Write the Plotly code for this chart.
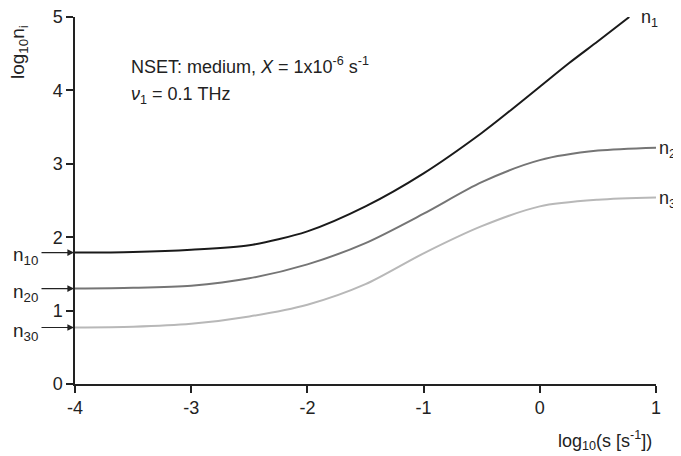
import plotly.graph_objects as go

# ---- data ----
x_vals = [-4, -3.5, -3, -2.5, -2, -1.5, -1, -0.5, 0, 0.5, 1]
n1_x = [-4, -3.5, -3, -2.5, -2, -1.5, -1, -0.5, -0.25, 0, 0.25, 0.5, 0.77]
n1 = [1.79, 1.80, 1.83, 1.89, 2.08, 2.42, 2.87, 3.42, 3.73, 4.05, 4.37, 4.67, 5.0]
n2 = [1.30, 1.31, 1.34, 1.44, 1.63, 1.92, 2.32, 2.75, 3.05, 3.18, 3.22]
n3 = [0.77, 0.78, 0.82, 0.92, 1.08, 1.36, 1.78, 2.15, 2.42, 2.51, 2.54]
x_ticks = [-4, -3, -2, -1, 0, 1]
x_tick_text = ["-4", "-3", "-2", "-1", "0", "1"]
y_ticks = [0, 1, 2, 3, 4, 5]
y_tick_text = ["0", "1", "2", "3", "4", "5"]

OFF = 8  # default page body margin
W, H = 681 - OFF, 456 - OFF
L, T = 75 - OFF, 17 - OFF
PW, PH = 581, 367
R, B = W - L - PW, H - T - PH
FONT = "Liberation Sans, Arial, sans-serif"
TXT = "#222222"


def px(xs):
    return (xs - OFF - L) / PW


def py(ys):
    return (T + PH - (ys - OFF)) / PH


fig = go.Figure()
fig.add_trace(go.Scatter(x=n1_x, y=n1, mode="lines",
                         line=dict(color="#1a1a1a", width=2, shape="spline", smoothing=0.8),
                         showlegend=False, cliponaxis=False))
fig.add_trace(go.Scatter(x=x_vals, y=n2, mode="lines",
                         line=dict(color="#757575", width=2, shape="spline", smoothing=0.8),
                         showlegend=False, cliponaxis=False))
fig.add_trace(go.Scatter(x=x_vals, y=n3, mode="lines",
                         line=dict(color="#b8b8b8", width=2, shape="spline", smoothing=0.8),
                         showlegend=False, cliponaxis=False))

ann = []


def text_ann(t, xs, ys, size=18, xanchor="left", angle=0):
    ann.append(dict(text=t, xref="paper", yref="paper", x=px(xs), y=py(ys),
                    xanchor=xanchor, yanchor="middle", textangle=angle,
                    showarrow=False, font=dict(family=FONT, size=size, color=TXT)))


# axis titles
text_ann("log<sub>10</sub>n<sub>i</sub>", 19, 52, size=19, xanchor="center", angle=-90)
text_ann("log<sub>10</sub>(s [s<sup>-1</sup>])", 654, 440, xanchor="right")
# info text
text_ann("NSET: medium, <i>X</i> = 1x10<sup>-6</sup> s<sup>-1</sup>", 129, 66)
text_ann("<i>ν</i><sub>1</sub> = 0.1 THz", 129, 96)
# curve labels
text_ann("n<sub>1</sub>", 639, 18, size=18)
text_ann("n<sub>2</sub>", 657, 149, size=18)
text_ann("n<sub>3</sub>", 657, 199, size=18)
# initial value labels with arrows
for t, y0, yy in [("n<sub>10</sub>", n1[0], 256), ("n<sub>20</sub>", n2[0], 293), ("n<sub>30</sub>", n3[0], 332)]:
    ann.append(dict(text="", x=x_vals[0], y=y0, xref="x", yref="y",
                    ax=-35, ay=0, showarrow=True, arrowhead=2, arrowsize=1.1,
                    arrowwidth=1.2, arrowcolor="#222222", standoff=1))
    text_ann(t, 11, yy, size=19)

axis_common = dict(showgrid=False, zeroline=False, showline=True, automargin=False,
                   linecolor="#222222", linewidth=1.5, ticks="outside",
                   ticklen=7, tickwidth=1.5, tickcolor="#222222",
                   ticklabeloverflow="allow",
                   tickfont=dict(family=FONT, size=18, color=TXT))

fig.update_layout(
    width=W, height=H,
    margin=dict(l=L, r=R, t=T, b=B, autoexpand=False),
    paper_bgcolor="white", plot_bgcolor="white",
    xaxis=dict(range=[-4, 1], tickvals=x_ticks, ticktext=x_tick_text, **axis_common),
    yaxis=dict(range=[0, 5], tickvals=y_ticks, ticktext=y_tick_text, **axis_common),
    annotations=ann,
)

fig.write_html("out.html")
